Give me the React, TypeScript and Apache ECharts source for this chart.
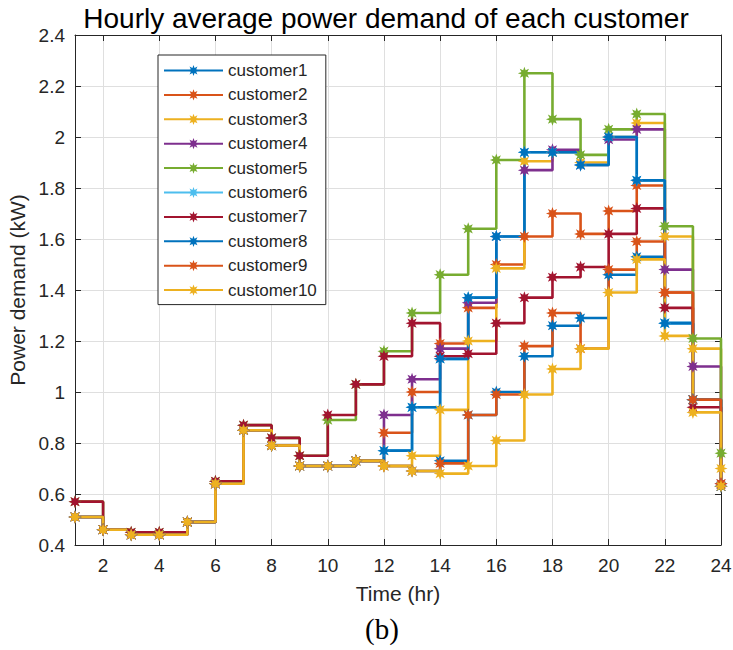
import React, { useEffect, useRef } from "react";
import * as echarts from "echarts";

// Hour of day (x) for each stair step
const hours = [1, 2, 3, 4, 5, 6, 7, 8, 9, 10, 11, 12, 13, 14, 15, 16, 17, 18, 19, 20, 21, 22, 23, 24];
const xTickValues = [2, 4, 6, 8, 10, 12, 14, 16, 18, 20, 22, 24];

// Hourly average demand in kW, one array per customer
const customer1 = [0.51, 0.46, 0.44, 0.44, 0.49, 0.64, 0.85, 0.79, 0.71, 0.71, 0.73, 0.71, 0.69, 0.73, 0.91, 1.0, 1.14, 1.26, 1.29, 1.46, 1.53, 1.27, 0.97, 0.63];
const customer2 = [0.51, 0.46, 0.44, 0.44, 0.49, 0.64, 0.85, 0.79, 0.71, 0.71, 0.73, 0.84, 1.0, 1.19, 1.33, 1.5, 1.61, 1.7, 1.62, 1.71, 1.81, 1.39, 0.97, 0.64];
const customer3 = [0.51, 0.46, 0.44, 0.44, 0.49, 0.64, 0.85, 0.79, 0.71, 0.71, 0.73, 0.71, 0.75, 0.93, 1.2, 1.485, 1.905, 1.94, 1.9, 2.0, 2.055, 1.61, 1.17, 0.7];
const customer4 = [0.51, 0.46, 0.44, 0.44, 0.49, 0.64, 0.85, 0.79, 0.71, 0.71, 0.73, 0.91, 1.05, 1.17, 1.35, 1.61, 1.87, 1.95, 1.89, 1.99, 2.03, 1.48, 1.1, 0.64];
const customer5 = [0.57, 0.46, 0.45, 0.45, 0.49, 0.65, 0.87, 0.82, 0.75, 0.89, 1.03, 1.16, 1.31, 1.46, 1.64, 1.91, 2.25, 2.07, 1.93, 2.03, 2.09, 1.65, 1.21, 0.76];
const customer6 = [0.51, 0.46, 0.44, 0.44, 0.49, 0.64, 0.85, 0.79, 0.71, 0.71, 0.73, 0.77, 0.94, 1.13, 1.37, 1.61, 1.94, 1.94, 1.89, 2.0, 1.83, 1.27, 0.97, 0.63];
const customer7 = [0.57, 0.46, 0.45, 0.45, 0.49, 0.65, 0.87, 0.82, 0.75, 0.91, 1.03, 1.14, 1.27, 1.14, 1.15, 1.27, 1.37, 1.45, 1.49, 1.62, 1.72, 1.33, 0.94, 0.63];
const customer8 = [0.51, 0.46, 0.44, 0.44, 0.49, 0.64, 0.85, 0.79, 0.71, 0.71, 0.73, 0.77, 0.94, 1.13, 1.37, 1.61, 1.94, 1.94, 1.89, 2.0, 1.83, 1.27, 0.97, 0.63];
const customer9 = [0.51, 0.46, 0.44, 0.44, 0.49, 0.64, 0.85, 0.79, 0.71, 0.71, 0.73, 0.71, 0.69, 0.72, 0.91, 0.99, 1.18, 1.31, 1.17, 1.48, 1.59, 1.39, 0.97, 0.64];
const customer10 = [0.51, 0.46, 0.44, 0.44, 0.49, 0.64, 0.85, 0.79, 0.71, 0.71, 0.73, 0.71, 0.69, 0.68, 0.71, 0.81, 0.99, 1.09, 1.17, 1.39, 1.52, 1.22, 0.92, 0.63];

const seriesNames = ["customer1", "customer2", "customer3", "customer4", "customer5", "customer6", "customer7", "customer8", "customer9", "customer10"];
const seriesValues = [customer1, customer2, customer3, customer4, customer5, customer6, customer7, customer8, customer9, customer10];
const seriesColors = ["#0072BD", "#D95319", "#EDB120", "#7E2F8E", "#77AC30", "#4DBEEE", "#A2142F", "#0072BD", "#D95319", "#EDB120"];

const SANS = "'Liberation Sans', Arial, Helvetica, sans-serif";
const SERIF = "'Liberation Serif', 'Times New Roman', serif";
const INK = "#262626";
const GRID = "#dfdfdf";

// Asterisk-like marker: an 8-pointed star on a 20x20 box
function asteriskSymbol(points: number, inner: number): string {
  const pts: string[] = [];
  for (let k = 0; k < points * 2; k++) {
    const a = (Math.PI * k) / points;
    const r = k % 2 === 0 ? 10 : 10 * inner;
    pts.push(`${(10 + r * Math.cos(a)).toFixed(2)} ${(10 + r * Math.sin(a)).toFixed(2)}`);
  }
  return "path://M" + pts.join(" L") + " Z";
}

export default function App() {
  const ref = useRef<HTMLDivElement>(null);

  useEffect(() => {
    if (!ref.current) return;
    const chart = echarts.init(ref.current, undefined, { renderer: "svg" });
    const marker = asteriskSymbol(8, 0.5);

    const series = seriesNames.map((name, i) => ({
      type: "line",
      name,
      step: "end",
      data: hours.map((h, j) => [h, seriesValues[i][j]]),
      symbol: marker,
      symbolSize: 13,
      showSymbol: true,
      showAllSymbol: true,
      lineStyle: { width: 2.6, color: seriesColors[i] },
      itemStyle: { color: seriesColors[i] },
      emphasis: { disabled: true },
      xAxisIndex: 0,
      yAxisIndex: 0,
    }));

    chart.setOption({
      animation: false,
      backgroundColor: "#ffffff",
      grid: { left: 75, right: 12, top: 35, bottom: 105, containLabel: false, outerBoundsMode: "none" },
      legend: {
        orient: "vertical",
        left: 158,
        top: 55,
        data: seriesNames,
        itemWidth: 59,
        itemHeight: 14,
        itemGap: 7.4,
        padding: [7, 9, 6, 5],
        borderColor: INK,
        borderWidth: 1,
        backgroundColor: "#ffffff",
        selectedMode: false,
        textStyle: { color: INK, fontSize: 17, fontFamily: SANS, lineHeight: 17 },
      },
      xAxis: [
        {
          type: "value",
          min: 1,
          max: 24,
          position: "bottom",
          axisLine: { show: true, onZero: false, lineStyle: { color: INK, width: 1 } },
          axisTick: { show: true, inside: true, length: 6, customValues: xTickValues, lineStyle: { color: INK } },
          axisLabel: { customValues: xTickValues, color: INK, fontSize: 19, fontFamily: SANS, margin: 11 },
          splitLine: { show: true, lineStyle: { color: GRID, width: 1 } },
          name: "Time (hr)",
          nameLocation: "middle",
          nameGap: 38,
          nameTextStyle: { color: INK, fontSize: 21, fontFamily: SANS },
        },
        {
          type: "value",
          min: 1,
          max: 24,
          position: "top",
          axisLine: { show: true, onZero: false, lineStyle: { color: INK, width: 1 } },
          axisTick: { show: true, inside: true, length: 6, customValues: xTickValues, lineStyle: { color: INK } },
          axisLabel: { show: false },
          splitLine: { show: false },
        },
      ],
      yAxis: [
        {
          type: "value",
          min: 0.4,
          max: 2.4,
          interval: 0.2,
          position: "left",
          axisLine: { show: true, onZero: false, lineStyle: { color: INK, width: 1 } },
          axisTick: { show: true, inside: true, length: 6, lineStyle: { color: INK } },
          axisLabel: { color: INK, fontSize: 19, fontFamily: SANS, margin: 10 },
          splitLine: { show: true, lineStyle: { color: GRID, width: 1 } },
          name: "Power demand (kW)",
          nameLocation: "middle",
          nameRotate: 90,
          nameGap: 46,
          nameTextStyle: { color: INK, fontSize: 21, fontFamily: SANS },
        },
        {
          type: "value",
          min: 0.4,
          max: 2.4,
          interval: 0.2,
          position: "right",
          axisLine: { show: true, onZero: false, lineStyle: { color: INK, width: 1 } },
          axisTick: { show: true, inside: true, length: 6, lineStyle: { color: INK } },
          axisLabel: { show: false },
          splitLine: { show: false },
        },
      ],
      graphic: [
        {
          type: "text",
          x: 386,
          y: 18,
          style: {
            text: "Hourly average power demand of each customer",
            fill: "#000000",
            fontSize: 28,
            fontFamily: SANS,
            align: "center",
            verticalAlign: "middle",
          },
        },
        {
          type: "text",
          x: 382,
          y: 629,
          style: {
            text: "(b)",
            fill: "#000000",
            fontSize: 29,
            fontFamily: SERIF,
            align: "center",
            verticalAlign: "middle",
          },
        },
      ],
      series,
    });

    return () => chart.dispose();
  }, []);

  return (
    <div
      ref={ref}
      style={{ position: "absolute", left: 0, top: 0, width: 733, height: 650 }}
    />
  );
}
